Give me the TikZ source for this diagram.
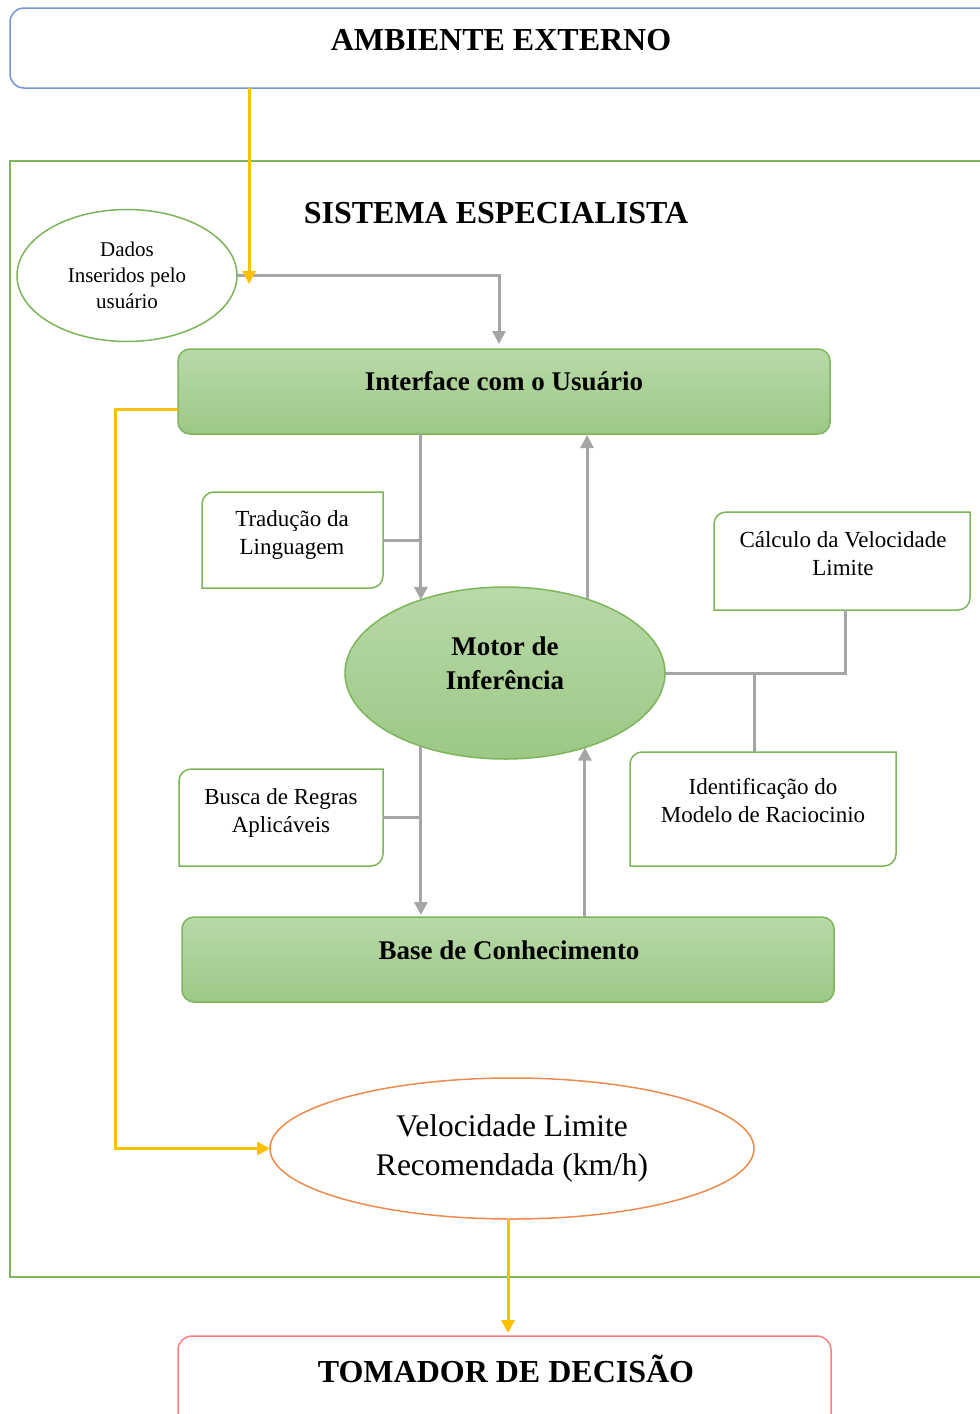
\documentclass[tikz,border=0pt]{standalone}
\usepackage{fontspec}
\setmainfont{Liberation Serif}
\usetikzlibrary{arrows.meta,shapes.geometric}

\definecolor{linegray}{HTML}{A5A5A5}
\definecolor{gold}{HTML}{FFC000}
\definecolor{leaf}{HTML}{7DB65A}
\definecolor{leaftop}{HTML}{B9D9A9}
\definecolor{leafbot}{HTML}{9CC885}
\definecolor{skyline}{HTML}{7396D8}
\definecolor{rose}{HTML}{FF7C80}
\definecolor{tangerine}{HTML}{EE8A4E}

% outline with rounded top-left and bottom-right corners
\newcommand\diagoutline[1]{%
  \draw[leafline] (#1.south west) -- ([yshift=-12pt]#1.north west)
    arc[start angle=180,end angle=90,radius=12pt] -- (#1.north east)
    -- ([yshift=12pt]#1.south east)
    arc[start angle=0,end angle=-90,radius=12pt] -- cycle;}

\begin{document}
\begin{tikzpicture}[x=1pt,y=1pt,
  box/.style={rectangle,inner sep=0pt,outer sep=0pt},
  leafline/.style={draw=leaf,line width=1.5pt,fill=white},
  greenbar/.style={box,rounded corners=12pt,draw=leaf,line width=1.5pt,
    top color=leaftop,bottom color=leafbot},
  titlefont/.style={font=\fontsize{32}{38}\selectfont\bfseries},
  barfont/.style={font=\fontsize{27}{34}\selectfont\bfseries,align=center},
  smallfont/.style={font=\fontsize{23}{28}\selectfont,align=center},
  tip/.style={-{Triangle[length=13pt,width=13pt]}},
  flow/.style={draw=linegray,line width=3pt},
  flowarrow/.style={flow,tip},
  yflow/.style={draw=gold,line width=3pt,tip}]
\useasboundingbox (0,0) rectangle (980,-1414);
\clip (0,0) rectangle (980,-1414);
\fill[white] (0,0) rectangle (980,-1414);

% outer frames
\node[box,rounded corners=14pt,draw=skyline,line width=1.5pt,
  minimum width=990pt,minimum height=80pt] (amb) at (505,-48) {};
\node[titlefont] (ambtxt) at (501,-40) {AMBIENTE EXTERNO};

\node[box,draw=leaf,line width=1.5pt,minimum width=990pt,
  minimum height=1116pt] (sys) at (505,-719) {};
\node[titlefont] (systxt) at (496,-213) {SISTEMA ESPECIALISTA};

% user input
\node[ellipse,draw=leaf,line width=1.5pt,fill=white,inner sep=0pt,outer sep=0pt,
  minimum width=220pt,minimum height=132pt,
  font=\fontsize{21}{26}\selectfont,align=center] (dados) at (127,-275.5)
  {Dados\\Inseridos pelo\\usuário};

% main bars
\node[greenbar,minimum width=652pt,minimum height=85pt] (iface) at (504,-391.5) {};
\node[barfont] (ifacetxt) at (504,-381) {Interface com o Usuário};

\node[greenbar,minimum width=652pt,minimum height=85pt] (base) at (508,-959.5) {};
\node[barfont] (basetxt) at (509,-950) {Base de Conhecimento};

% inference engine
\node[ellipse,draw=leaf,line width=1.5pt,top color=leaftop,bottom color=leafbot,
  inner sep=0pt,outer sep=0pt,minimum width=320pt,minimum height=172pt]
  (motor) at (505,-673) {};
\node[barfont] (motortxt) at (505,-663.5) {Motor de\\Inferência};

% side boxes
\node[box,minimum width=181pt,minimum height=96pt] (trad) at (292.5,-540) {};
\diagoutline{trad}
\node[smallfont] (tradtxt) at (292,-535) {Tradução da\\Linguagem};

\node[box,minimum width=256pt,minimum height=98pt] (calc) at (842,-561) {};
\diagoutline{calc}
\node[smallfont] (calctxt) at (843,-554) {Cálculo da Velocidade\\Limite};

\node[box,minimum width=266pt,minimum height=114pt] (ident) at (763,-809) {};
\diagoutline{ident}
\node[smallfont] (identtxt) at (763,-801) {Identificação do\\Modelo de Raciocinio};

\node[box,minimum width=204pt,minimum height=97pt] (busca) at (281,-817.5) {};
\diagoutline{busca}
\node[smallfont] (buscatxt) at (281,-812.5) {Busca de Regras\\Aplicáveis};

% result and decision maker
\node[ellipse,draw=tangerine,line width=1.5pt,fill=white,inner sep=0pt,outer sep=0pt,
  minimum width=484pt,minimum height=141pt,
  font=\fontsize{31.5}{39}\selectfont,align=center] (vel) at (512,-1148.5)
  {Velocidade Limite\\Recomendada (km/h)};

\node[box,rounded corners=14pt,draw=rose,line width=1.5pt,
  minimum width=653pt,minimum height=114pt] (tom) at (504.5,-1393) {};
\node[titlefont] (tomtxt) at (506,-1369) {TOMADOR DE DECISÃO};

% gray connectors
\draw[flowarrow,shorten >=5pt] (dados.east) -| ([xshift=-5pt]iface.north);
\draw[flowarrow] (iface.south -| motor.139.4) -- (motor.139.4);
\draw[flowarrow,shorten >=1pt] (motor.42.5) -- (motor.42.5 |- iface.south);
\draw[flow] (trad.east) -- (trad.east -| motor.139.4);
\draw[flow] (motor.east) -| ([xshift=3pt]calc.south);
\draw[flow] ([xshift=-9pt]ident.north) -- ([xshift=-9pt]ident.north |- motor.east);
\draw[flowarrow,shorten >=2pt] (motor.221.5) -- (motor.221.5 |- base.north);
\draw[flow] (busca.east) -- (busca.east -| motor.221.5);
\draw[flowarrow] (base.north -| motor.317.5) -- (motor.317.5);

% yellow connectors
\coordinate (dadosin) at (249,-284);
\draw[yflow] (amb.south -| dadosin) -- (dadosin);
\coordinate (loop) at (115,-409);
\draw[yflow] (iface.west |- loop) -- (loop) |- (vel.west);
\draw[yflow,shorten >=3pt] ([xshift=-4pt]vel.south) -- ([xshift=-4pt]vel.south |- tom.north);
\end{tikzpicture}
\end{document}
